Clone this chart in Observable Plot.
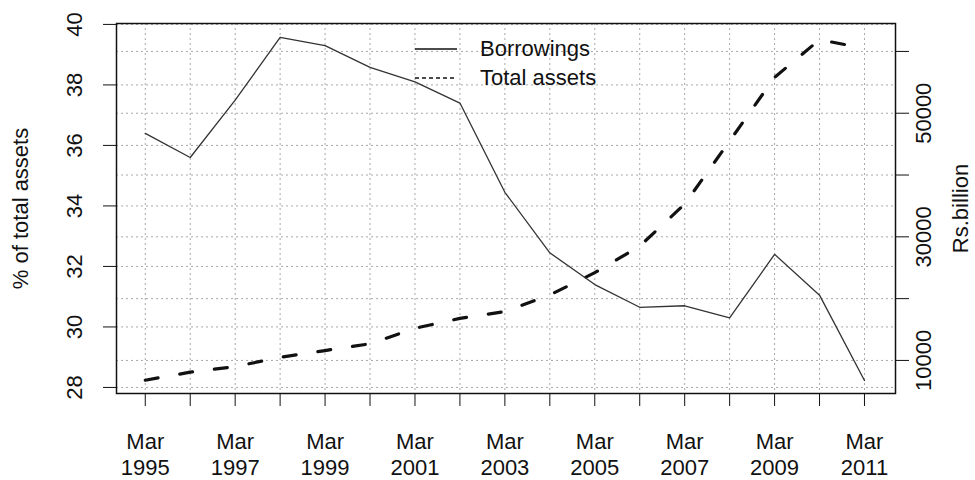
<!DOCTYPE html>
<html>
<head>
<meta charset="utf-8">
<script src="https://cdn.jsdelivr.net/npm/d3@7"></script>
<script src="https://cdn.jsdelivr.net/npm/@observablehq/plot@0.6"></script>
<style>
  html, body { margin: 0; padding: 0; background: #fff; }
  #wrap { position: relative; width: 975px; height: 480px; font-family: "Liberation Sans", Arial, sans-serif; }
  #legend { position: absolute; left: 414px; top: 34px; font-size: 22px; color: #111; }
  #legend div { display: flex; align-items: center; height: 29px; }
  #legend svg { margin-right: 22px; }
</style>
</head>
<body>
<div id="wrap"><div id="legend"></div></div>
<script>
const years = [1995,1996,1997,1998,1999,2000,2001,2002,2003,2004,2005,2006,2007,2008,2009,2010,2011];
const borrowings = [36.4,35.6,37.5,39.57,39.3,38.58,38.1,37.4,34.45,32.45,31.4,30.65,30.7,30.3,32.4,31.05,28.23];
const totalAssets = [6800,8100,9000,10500,11600,12700,15200,16800,17900,20600,24200,28500,35300,45500,55800,61900,60500];
const leftTicks = [28,30,32,34,36,38,40];
const leftGrid = [28,30,32,34,36,38,40];
const rightTicks = [10000,20000,30000,40000,50000,60000];
const rightLabels = [10000,30000,50000];
const seriesNames = ["Borrowings","Total assets"];

// right (Rs.billion) axis mapped onto the left (%) scale
const rA = 10000, rB = 60000, lA = 28.893, lB = 39.107;
const toLeft = v => lA + (v - rA) * (lB - lA) / (rB - rA);
const fromLeft = l => rA + (l - lA) * (rB - rA) / (lB - lA);

const rows = years.map((y, i) => ({year: y, b: borrowings[i], t: toLeft(totalAssets[i])}));

const font = "Liberation Sans, Arial, sans-serif";
const gridStyle = {stroke: "#a8a8a8", strokeOpacity: 1, strokeDasharray: "2,3", strokeWidth: 1};

const chart = Plot.plot({
  width: 975,
  height: 480,
  marginLeft: 116,
  marginRight: 80,
  marginTop: 23,
  marginBottom: 87,
  style: {fontFamily: font, fontSize: "22px", color: "#111", background: "white"},
  x: {domain: [1994.36, 2011.69]},
  y: {domain: [27.8, 40.03]},
  marks: [
    Plot.gridX(years, {...gridStyle}),
    Plot.gridY(leftGrid, {...gridStyle}),
    Plot.gridY(rightTicks.map(toLeft), {...gridStyle}),
    Plot.line(rows, {x: "year", y: "t", stroke: "#111", strokeWidth: 3.2, strokeDasharray: "13,22", strokeLinecap: "round"}),
    Plot.line(rows, {x: "year", y: "b", stroke: "#333", strokeWidth: 1.3}),
    Plot.frame({stroke: "#111", strokeWidth: 1.5}),
    Plot.axisX({ticks: years, tickSize: 13, tickPadding: 24, fontSize: 22, lineHeight: 1.18,
      tickFormat: d => d % 2 === 1 ? `Mar\n${d}` : "", label: null, stroke: "#111"}),
    Plot.axisY({anchor: "left", ticks: leftTicks, tickSize: 13, tickPadding: 22, tickRotate: -90,
      fontSize: 22, label: "% of total assets", labelAnchor: "center", labelArrow: "none", labelOffset: 104}),
    Plot.axisY({anchor: "right", ticks: rightTicks.map(toLeft), tickSize: 13, tickPadding: 22, tickRotate: -90,
      fontSize: 22, tickFormat: l => { const v = Math.round(fromLeft(l)); return rightLabels.includes(v) ? String(v) : ""; },
      label: "Rs.billion", labelAnchor: "center", labelArrow: "none", labelOffset: 72})
  ]
});
document.getElementById("wrap").prepend(chart);

// legend
const legend = document.getElementById("legend");
const dashes = [null, "4,3"];
seriesNames.forEach((name, i) => {
  const row = document.createElement("div");
  row.innerHTML = `<svg width="44" height="10"><line x1="1" x2="43" y1="5" y2="5" stroke="#111" stroke-width="1.3" ${dashes[i] ? `stroke-dasharray="${dashes[i]}"` : ""}/></svg><span>${name}</span>`;
  legend.appendChild(row);
});
</script>
</body>
</html>
